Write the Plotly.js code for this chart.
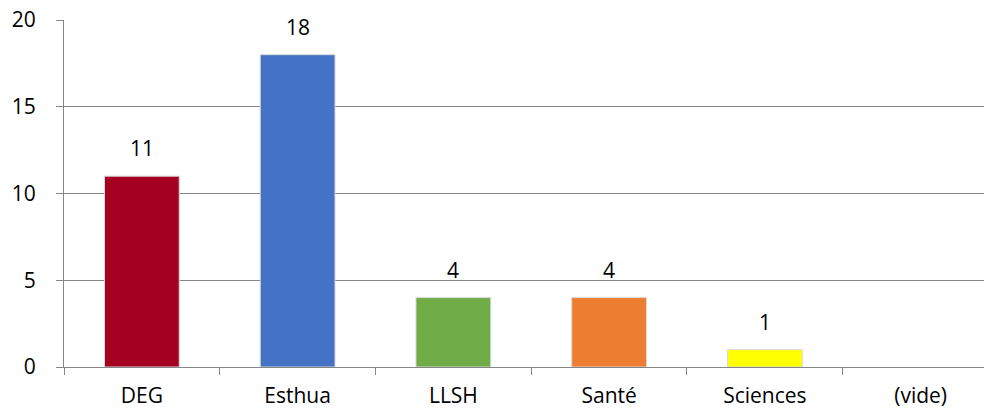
<!DOCTYPE html>
<html><head><meta charset="utf-8">
<script src="https://cdn.plot.ly/plotly-3.0.1.min.js"></script>
<style>html,body{margin:0;padding:0;background:#fff}</style>
</head><body><div id="chart" style="width:984px;height:412px"></div>
<script>
const categories = ["DEG", "Esthua", "LLSH", "Santé", "Sciences", "(vide)"];
const values = [11, 18, 4, 4, 1, null];
const labels = ["11", "18", "4", "4", "1", ""];
const colors = ["#A50021", "#4472C4", "#70AD47", "#ED7D31", "#FFFF00", "#FFFFFF"];

const font = {family: "Open Sans, Liberation Sans, sans-serif", size: 21, color: "#000"};
const trace = {
  type: "bar", x: categories, y: values,
  width: 0.48,
  marker: {color: colors, line: {color: "#d9d9d9", width: 1}},
  hoverinfo: "skip"
};
const annotations = categories.map((c, i) => values[i] == null ? null : ({
  x: c, y: values[i], text: labels[i], showarrow: false,
  yanchor: "bottom", yshift: 12, font: font
})).filter(a => a);

const layout = {
  width: 984, height: 412,
  margin: {l: 64, r: 0, t: 19.5, b: 44.5},
  paper_bgcolor: "#fff", plot_bgcolor: "#fff",
  showlegend: false, font: font,
  bargap: 0,
  xaxis: {
    type: "category", range: [-0.5, 5.407],
    tickson: "boundaries", ticks: "outside", ticklen: 7, tickcolor: "#868686",
    showline: true, linecolor: "#868686", linewidth: 1,
    showgrid: false, tickfont: font, ticklabelstandoff: 10
  },
  yaxis: {
    range: [0, 20], tickvals: [0, 5, 10, 15, 20],
    ticks: "outside", ticklen: 7, tickcolor: "#868686",
    showline: true, linecolor: "#868686", linewidth: 1,
    showgrid: true, gridcolor: "#868686", gridwidth: 1,
    zeroline: false, tickfont: font, ticklabelstandoff: 16
  },
  annotations: annotations
};
Plotly.newPlot("chart", [trace], layout, {displayModeBar: false, staticPlot: true});
</script></body></html>
